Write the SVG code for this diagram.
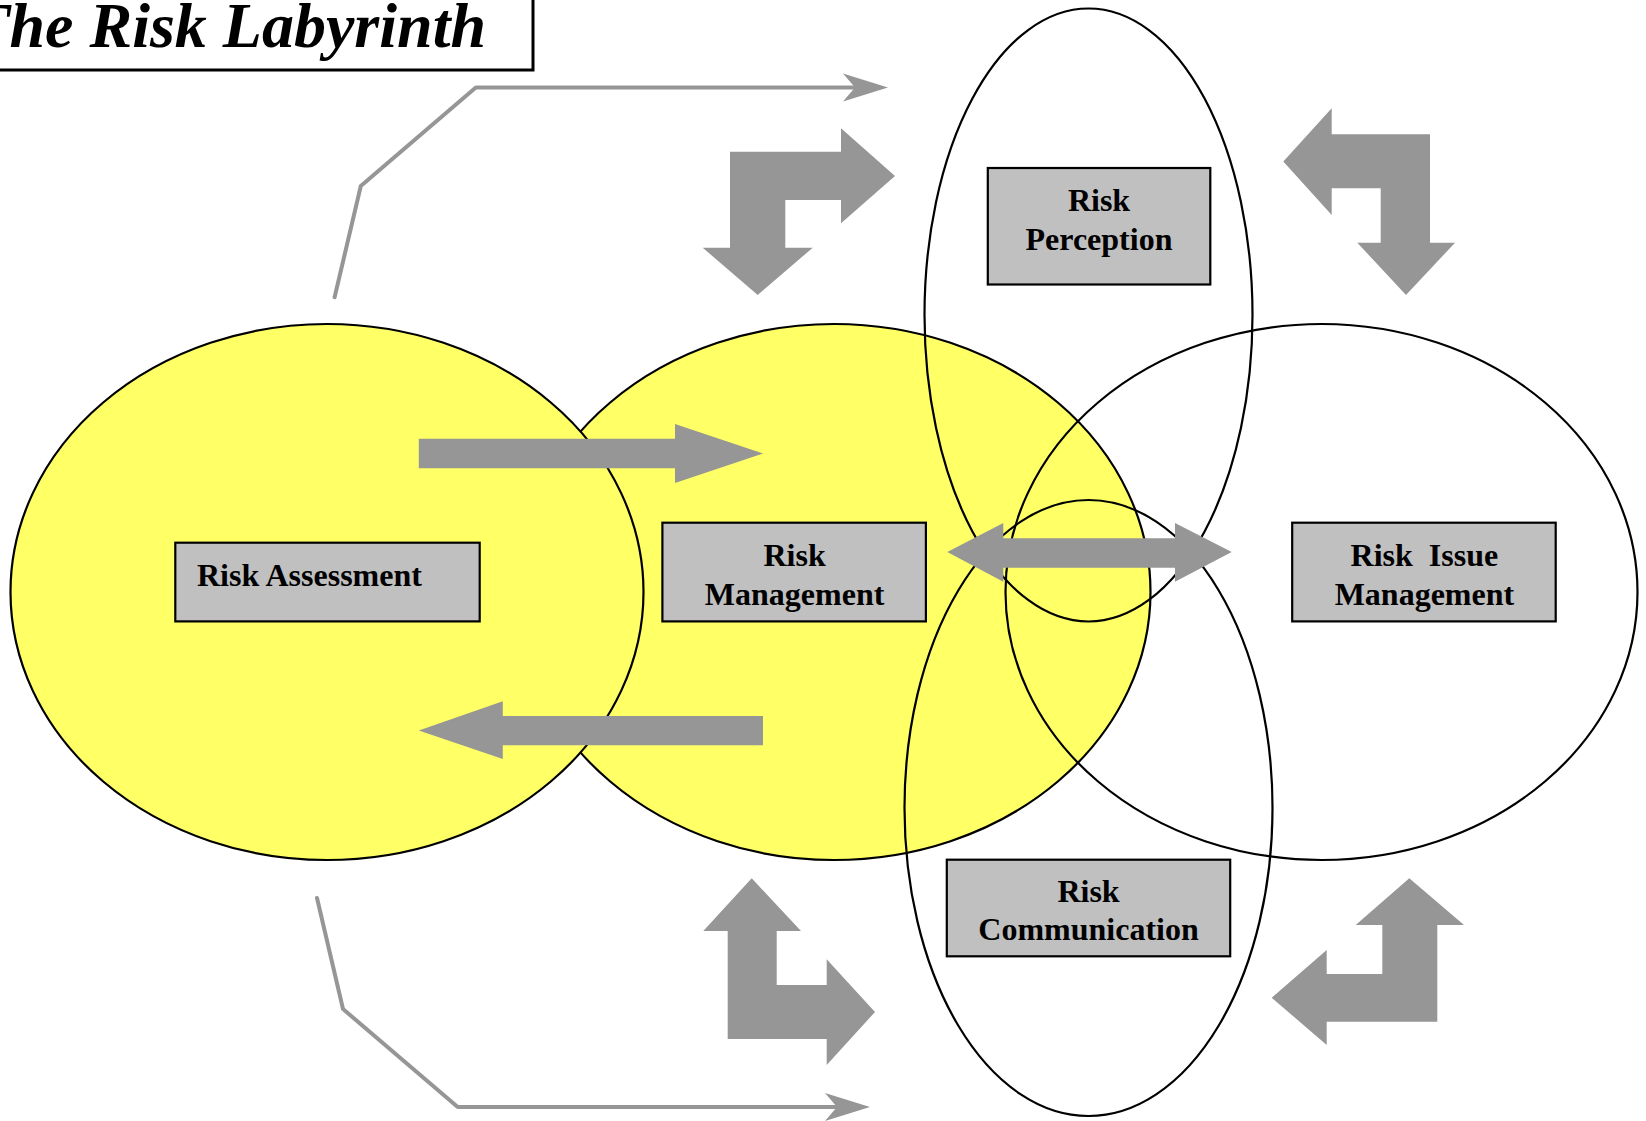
<svg xmlns="http://www.w3.org/2000/svg" width="1646" height="1121" viewBox="0 0 1646 1121">
<style>
.yel{fill:#ffff66;stroke:#000;stroke-width:2.2}
.ring{fill:none;stroke:#000;stroke-width:2.2}
.arr{fill:#969696;stroke:none}
.con{fill:none;stroke:#969696;stroke-width:4;stroke-linejoin:round;stroke-linecap:round}
.box{fill:#c0c0c0;stroke:#000;stroke-width:2.2}
.lbl{font-family:"Liberation Serif","Times New Roman",serif;font-weight:bold;font-size:32px;fill:#000}
.title{font-family:"Liberation Serif","Times New Roman",serif;font-weight:bold;font-style:italic;font-size:64px;fill:#000}
</style>
<defs>
<marker id="ah" markerUnits="userSpaceOnUse" markerWidth="50" markerHeight="32" viewBox="-46 -16 50 32" refX="-33" refY="0" orient="auto">
<path d="M0,0 L-45,-14 L-33,0 L-45,14 Z" fill="#969696"/>
</marker>
</defs>
<rect width="1646" height="1121" fill="#fff"/>
<g id="title">
<rect x="-6" y="-6" width="539" height="76" fill="#fff" stroke="#000" stroke-width="3"/>
<text class="title" x="486" y="46.5" text-anchor="end">The Risk Labyrinth</text>
</g>
<g id="ellipses">
<ellipse id="e-management" class="yel" cx="834" cy="592" rx="316.5" ry="268"/>
<ellipse id="e-assessment" class="yel" cx="327" cy="592" rx="316.5" ry="268"/>
<ellipse id="e-issue" class="ring" cx="1321.5" cy="592" rx="316" ry="268"/>
<ellipse id="e-perception" class="ring" cx="1088.5" cy="315" rx="164" ry="306.5"/>
<ellipse id="e-communication" class="ring" cx="1088.5" cy="808" rx="184" ry="308"/>
</g>
<g id="connectors">
<polyline class="con" points="334.6,297.3 360.8,186 475.8,87.5 855,87.5" marker-end="url(#ah)"/>
<polyline class="con" points="317,898 343,1009 457.7,1107 837,1107" marker-end="url(#ah)"/>
<polygon class="arr" points="418.8,438.8 675,438.8 675,424 763,453.5 675,483 675,468.2 418.8,468.2"/>
<polygon class="arr" points="418.8,730.6 502.8,701.2 502.8,715.9 763,715.9 763,745.3 502.8,745.3 502.8,759"/>
<polygon class="arr" points="947.3,552 1003.3,523 1003.3,538.3 1175,538.3 1175,523 1231.7,552 1175,581.7 1175,567.7 1003.3,567.7 1003.3,581.7"/>
<polygon class="arr" points="730,151.7 841,151.7 841,128.3 895,176 841,223.3 841,200 785.3,200 785.3,247.7 812.7,247.7 757.7,295 702.7,247.7 730,247.7"/>
<polygon class="arr" points="1283.3,161.5 1331.7,108.3 1331.7,134.3 1430,134.3 1430,242.7 1455,242.7 1406,295 1357.3,242.7 1380.7,242.7 1380.7,188.3 1331.7,188.3 1331.7,215"/>
<polygon class="arr" points="751.7,878.3 801,931 776.7,931 776.7,985 826.7,985 826.7,959.3 875,1012 826.7,1065 826.7,1039 727.7,1039 727.7,931 703.3,931"/>
<polygon class="arr" points="1409.3,878.3 1464,925 1437.3,925 1437.3,1021.7 1326.7,1021.7 1326.7,1045 1271.7,997.7 1326.7,950 1326.7,974 1382.3,974 1382.3,925 1355.7,925"/>
</g>
<g id="risk-assessment">
<rect class="box" x="175.3" y="542.7" width="304.4" height="78.7"/>
<text class="lbl" x="197" y="585.5">Risk Assessment</text>
</g>
<g id="risk-management">
<rect class="box" x="662.4" y="522.7" width="263.5" height="98.7"/>
<text class="lbl" x="794.6" y="565.5" text-anchor="middle">Risk</text>
<text class="lbl" x="794.6" y="604.5" text-anchor="middle">Management</text>
</g>
<g id="risk-perception">
<rect class="box" x="987.8" y="168" width="222.5" height="116.5"/>
<text class="lbl" x="1099" y="210.5" text-anchor="middle">Risk</text>
<text class="lbl" x="1099" y="249.5" text-anchor="middle">Perception</text>
</g>
<g id="risk-issue-management">
<rect class="box" x="1292.2" y="522.7" width="263.5" height="98.7"/>
<text class="lbl" x="1424.4" y="565.5" text-anchor="middle" xml:space="preserve">Risk  Issue</text>
<text class="lbl" x="1424.4" y="604.5" text-anchor="middle">Management</text>
</g>
<g id="risk-communication">
<rect class="box" x="946.8" y="859.7" width="283.4" height="96.6"/>
<text class="lbl" x="1088.5" y="901.5" text-anchor="middle">Risk</text>
<text class="lbl" x="1088.5" y="939.5" text-anchor="middle">Communication</text>
</g>
</svg>
